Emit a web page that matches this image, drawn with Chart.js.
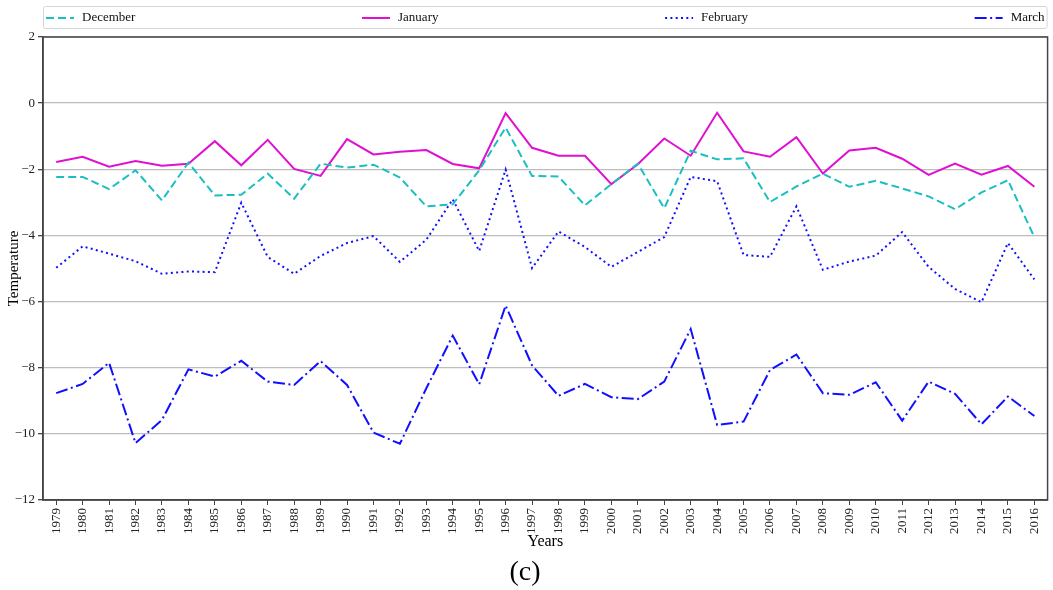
<!DOCTYPE html>
<html>
<head>
<meta charset="utf-8">
<script src="https://cdn.jsdelivr.net/npm/chart.js@4"></script>
<style>
    html, body { margin: 0; padding: 0; background: #fff; }
    #wrap { width: 1053px; height: 590px; }
</style>
</head>
<body>
<div id="wrap"><canvas id="tempChart" width="1053" height="590"></canvas></div>
<script>
const years = [];
for (let y = 1979; y <= 2016; y++) years.push(String(y));

const december = [-2.23, -2.23, -2.60, -2.03, -2.94, -1.80, -2.79, -2.77, -2.13, -2.89,
    -1.83, -1.95, -1.86, -2.25, -3.12, -3.06, -2.03, -0.74, -2.20, -2.22,
    -3.09, -2.45, -1.83, -3.18, -1.44, -1.70, -1.67, -2.99, -2.52, -2.13,
    -2.53, -2.35, -2.58, -2.82, -3.21, -2.70, -2.33, -4.05];

const january = [-1.78, -1.62, -1.92, -1.75, -1.89, -1.83, -1.15, -1.88, -1.11, -1.99,
    -2.20, -1.09, -1.55, -1.47, -1.42, -1.84, -1.97, -0.30, -1.35, -1.59,
    -1.59, -2.45, -1.85, -1.07, -1.59, -0.29, -1.46, -1.62, -1.03, -2.13,
    -1.43, -1.35, -1.68, -2.17, -1.83, -2.16, -1.90, -2.53];

const february = [-4.98, -4.33, -4.55, -4.78, -5.16, -5.09, -5.11, -3.01, -4.65, -5.16,
    -4.62, -4.23, -4.02, -4.80, -4.13, -2.91, -4.47, -2.01, -4.99, -3.88,
    -4.35, -4.95, -4.50, -4.05, -2.23, -2.36, -4.59, -4.65, -3.12, -5.04,
    -4.79, -4.61, -3.90, -4.95, -5.62, -6.02, -4.23, -5.33];

const march = [-8.77, -8.49, -7.85, -10.28, -9.58, -8.05, -8.27, -7.79, -8.42, -8.52,
    -7.80, -8.52, -9.96, -10.30, -8.62, -7.03, -8.50, -6.12, -7.93, -8.85,
    -8.49, -8.89, -8.95, -8.42, -6.83, -9.73, -9.63, -8.07, -7.60, -8.77,
    -8.82, -8.44, -9.60, -8.42, -8.79, -9.71, -8.87, -9.46];

const seriesNames = ['December', 'January', 'February', 'March'];

const serif = "'Liberation Serif', 'DejaVu Serif', serif";

// frame round the plot area, like the matplotlib axes box
const framePlugin = {
    id: 'frame',
    beforeDatasetsDraw(chart) {
        const a = chart.chartArea;
        const ctx = chart.ctx;
        ctx.save();
        ctx.strokeStyle = '#444';
        ctx.lineWidth = 1.5;
        ctx.strokeRect(a.left, a.top, a.right - a.left, a.bottom - a.top);
        ctx.restore();
    }
};

// legend spread across the full width (matplotlib "expand" mode)
const spreadLegend = {
    id: 'spreadLegend',
    afterDraw(chart) {
        const ctx = chart.ctx;
        const a = chart.chartArea;
        const boxTop = 6, boxH = 22;
        ctx.save();
        ctx.strokeStyle = '#d6d6d6';
        ctx.lineWidth = 1;
        ctx.beginPath();
        ctx.roundRect(a.left + 0.5, boxTop + 0.5, a.right - a.left - 1, boxH, 2);
        ctx.stroke();

        ctx.font = '13px ' + serif;
        const handleW = 28, gapText = 8, innerPad = 3;
        const items = chart.data.datasets.map(ds => ({
            ds, w: handleW + gapText + ctx.measureText(ds.label).width
        }));
        const total = items.reduce((s, it) => s + it.w, 0);
        const avail = (a.right - a.left) - 2 * innerPad;
        const gap = (avail - total) / (items.length - 1);
        let x = a.left + innerPad;
        const cy = boxTop + boxH / 2 + 1;
        items.forEach(it => {
            ctx.strokeStyle = it.ds.borderColor;
            ctx.lineWidth = it.ds.borderWidth;
            ctx.setLineDash(it.ds.borderDash || []);
            ctx.beginPath();
            ctx.moveTo(x, cy);
            ctx.lineTo(x + handleW, cy);
            ctx.stroke();
            ctx.setLineDash([]);
            ctx.fillStyle = '#111';
            ctx.textBaseline = 'middle';
            ctx.textAlign = 'left';
            ctx.fillText(it.ds.label, x + handleW + gapText, cy);
            x += it.w + gap;
        });
        ctx.restore();
    }
};

const ctx = document.getElementById('tempChart').getContext('2d');

new Chart(ctx, {
    type: 'line',
    data: {
        labels: years,
        datasets: [
            { label: seriesNames[0], data: december, borderColor: '#1cbfbf', borderWidth: 2, borderDash: [8, 4] },
            { label: seriesNames[1], data: january, borderColor: '#e010d0', borderWidth: 2 },
            { label: seriesNames[2], data: february, borderColor: '#1010ff', borderWidth: 2, borderDash: [2, 3.3] },
            { label: seriesNames[3], data: march, borderColor: '#1010ff', borderWidth: 2, borderDash: [12, 3.5, 2, 3.5] }
        ]
    },
    options: {
        responsive: false,
        animation: false,
        devicePixelRatio: 1,
        layout: { padding: { top: 37, right: 3, left: 0, bottom: 0 } },
        elements: {
            point: { radius: 0 },
            line: { tension: 0, borderCapStyle: 'butt', fill: false }
        },
        plugins: {
            legend: { display: false },
            tooltip: { enabled: false },
            title: {
                display: true,
                position: 'bottom',
                text: '(c)',
                color: '#000',
                font: { family: serif, size: 28, weight: 'normal', lineHeight: 1.0 },
                padding: { top: 2, bottom: 3 }
            }
        },
        scales: {
            x: {
                type: 'category',
                offset: true,
                grid: {
                    drawOnChartArea: false,
                    drawTicks: true,
                    tickLength: 5,
                    color: '#444',
                    lineWidth: 1
                },
                border: { display: true, color: '#444', width: 1.5 },
                ticks: {
                    color: '#222',
                    font: { family: serif, size: 13 },
                    maxRotation: 90,
                    minRotation: 90,
                    autoSkip: false,
                    padding: 3
                },
                title: {
                    display: true,
                    text: 'Years',
                    color: '#000',
                    font: { family: serif, size: 16, lineHeight: 1.2 },
                    padding: { top: 0, bottom: 6 }
                },
                afterFit(scale) { scale.height = 57; }
            },
            y: {
                min: -12,
                max: 2,
                grid: {
                    color: '#bdbdbd',
                    lineWidth: 1.3,
                    drawTicks: true,
                    tickLength: 5,
                    tickColor: '#444'
                },
                border: { display: true, color: '#444', width: 1.5 },
                ticks: {
                    stepSize: 2,
                    color: '#222',
                    font: { family: serif, size: 13 },
                    padding: 3,
                    callback: v => String(v).replace('-', '\u2212')
                },
                title: {
                    display: true,
                    text: 'Temperature',
                    color: '#000',
                    font: { family: serif, size: 15, lineHeight: 1.2 },
                    padding: { top: 5, bottom: 0 }
                },
                afterFit(scale) { scale.width = 43; }
            }
        }
    },
    plugins: [framePlugin, spreadLegend]
});
</script>
</body>
</html>
